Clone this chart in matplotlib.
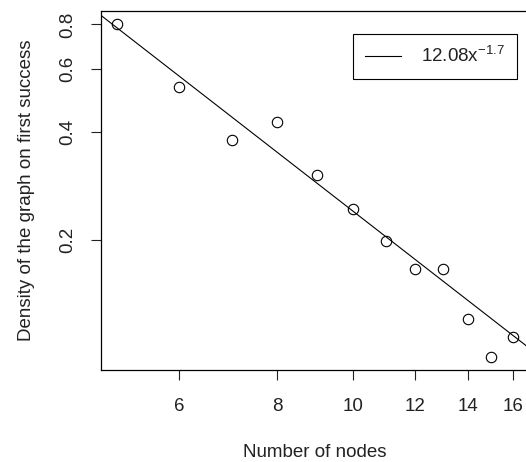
import numpy as np
import matplotlib
matplotlib.use("Agg")
import matplotlib.pyplot as plt

plt.rcParams['font.family'] = ['Liberation Sans', 'DejaVu Sans']
plt.rcParams['font.size'] = 13.5

# data
nodes = [5, 6, 7, 8, 9, 10, 11, 12, 13, 14, 15, 16]
density = [0.80, 0.535, 0.381, 0.427, 0.304, 0.244, 0.199, 0.166, 0.166,
           0.1205, 0.0947, 0.1077]

# fitted power law a * x^b
fit_a = 12.08
fit_b = -1.7

xticks = [6, 8, 10, 12, 14, 16]
yticks = [0.2, 0.4, 0.6, 0.8]

fig = plt.figure(figsize=(5.26, 4.62), dpi=100)
ax = fig.add_axes([0.192, 0.199, 0.814, 0.777])

ax.plot(nodes, density, 'o', mfc='none', mec='black', ms=7.5, mew=0.8)

xs = np.array([4.0, 20.0])
ax.plot(xs, fit_a * xs ** fit_b, 'k-', lw=0.8,
        label=r'$\mathregular{12.08x^{-1.7}}$')

ax.set_xscale('log')
ax.set_yscale('log')

# R-style 4% padding in log space
lx = np.log(nodes)
ly = np.log(density)
px = 0.04 * (lx.max() - lx.min())
py = 0.04 * (ly.max() - ly.min())
ax.set_xlim(np.exp(lx.min() - px), np.exp(lx.max() + px))
ax.set_ylim(np.exp(ly.min() - py), np.exp(ly.max() + py))

ax.minorticks_off()
ax.set_xticks(xticks, [str(t) for t in xticks])
ax.set_yticks(yticks, [str(t) for t in yticks])
ax.tick_params(axis='both', direction='out', length=7.5, width=0.8,
               colors='#222222')
ax.tick_params(axis='x', pad=12.5)
ax.tick_params(axis='y', pad=10, labelrotation=90)
for lab in ax.get_yticklabels():
    lab.set_va('center')

for s in ax.spines.values():
    s.set_linewidth(0.9)

ax.set_xlabel('Number of nodes', labelpad=21, color='#222222')
ax.set_ylabel('Density of the graph on first success', labelpad=17.5,
              color='#222222')

leg = ax.legend(loc='upper left', bbox_to_anchor=(0.671, 0.926),
                bbox_transform=fig.transFigure, borderaxespad=0,
                fancybox=False, edgecolor='black', framealpha=1,
                handlelength=1.9, handletextpad=1.1, borderpad=0.65)
leg.get_frame().set_linewidth(0.8)
for t in leg.get_texts():
    t.set_color('#222222')

fig.savefig('out.png', dpi=100)
